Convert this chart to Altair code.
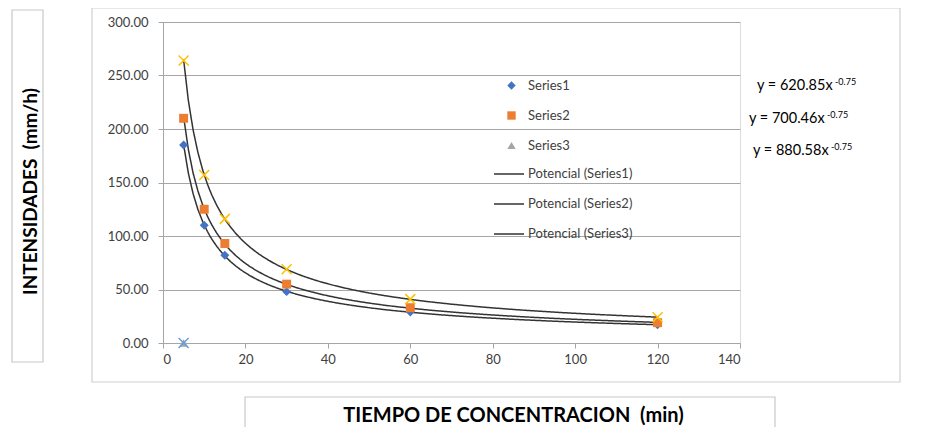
import altair as alt
import pandas as pd

# ---- data ----
tiempo = [5, 10, 15, 30, 60, 120]
series1 = [185, 110, 82, 48, 29, 17]
series2 = [210, 125, 93, 55, 33, 19]
series_x = [264, 157, 116, 69, 41, 24]     # yellow crosses
series3_x = [5]
series3_y = [0]
legend_series = ["Series1", "Series2", "Series3"]
trend_names = ["Potencial (Series1)", "Potencial (Series2)", "Potencial (Series3)"]
equations = ["y = 620.85x", "y = 700.46x", "y = 880.58x"]
exponent = "-0.75"
y_ticks = [0, 50, 100, 150, 200, 250, 300]
x_ticks = [0, 20, 40, 60, 80, 100, 120, 140]

FONT = "Lato"

pts = pd.DataFrame(
    [{"x": t, "y": v, "series": "Series1"} for t, v in zip(tiempo, series1)]
    + [{"x": t, "y": v, "series": "Series2"} for t, v in zip(tiempo, series2)]
    + [{"x": t, "y": v, "series": "Series3"} for t, v in zip(series3_x, series3_y)]
)
crosses = pd.DataFrame(
    [{"x": t, "y": v, "grp": "Y"} for t, v in zip(tiempo, series_x)]
    + [{"x": t, "y": v, "grp": "B"} for t, v in zip(series3_x, series3_y)]
)
trend = pd.DataFrame(
    [{"x": t, "y": v, "fit": trend_names[0]} for t, v in zip(tiempo, series1)]
    + [{"x": t, "y": v, "fit": trend_names[1]} for t, v in zip(tiempo, series2)]
    + [{"x": t, "y": v, "fit": trend_names[2]} for t, v in zip(tiempo, series_x)]
)

xscale = alt.Scale(domain=[0, 140], nice=False, zero=True)
yscale = alt.Scale(domain=[0, 300], nice=False)

x_axis = alt.Axis(
    values=x_ticks, format="d", grid=False, title="TIEMPO DE CONCENTRACION \u00a0(min)",
    titleFont=FONT, titleFontSize=20, titleFontWeight="bold", titleColor="#000000",
    titleX=350, titleY=72, titleBaseline="middle", titleAlign="center",
    labelFont=FONT, labelFontSize=13, labelColor="#404040", labelPadding=5,
    domainColor="#a6a6a6", tickColor="#a6a6a6", tickSize=5,
)
y_axis = alt.Axis(
    values=y_ticks, format=".2f", grid=True, gridColor="#a6a6a6",
    title="INTENSIDADES \u00a0(mm/h)",
    titleFont=FONT, titleFontSize=19, titleFontWeight="bold", titleColor="#000000",
    titleX=-133, titleY=169, titleBaseline="middle", titleAlign="center", titleAngle=270,
    labelFont=FONT, labelFontSize=13, labelColor="#404040", labelPadding=10,
    domainColor="#a6a6a6", tickColor="#a6a6a6", tickSize=5,
)

X = alt.X("x:Q", scale=xscale, axis=x_axis)
Y = alt.Y("y:Q", scale=yscale, axis=y_axis)

pt_legend = alt.Legend(
    title=None, orient="none", legendX=342, legendY=57, padding=0,
    symbolSize=70, labelOffset=10, rowPadding=16,
    labelFont=FONT, labelFontSize=13, labelColor="#404040",
)
line_legend = alt.Legend(
    title=None, orient="none", legendX=330, legendY=136, padding=0,
    symbolSize=900, symbolStrokeColor="#333333", symbolStrokeWidth=1.5,
    symbolType="stroke", labelOffset=3, rowPadding=7,
    labelFont=FONT, labelFontSize=13, labelColor="#404040",
)

def box(x1, x2, y1, y2, color):
    return alt.Chart(alt.Data(values=[{"k": 1}])).mark_rect(
        fill=None, fillOpacity=0, stroke=color, strokeWidth=1.2
    ).encode(x=alt.value(x1), x2=alt.value(x2), y=alt.value(y1), y2=alt.value(y2))

outer = box(-71, 737, -14, 360, "#d0d0d0")
ybox = box(-151, -120, -12, 340, "#c8c8c8")
xbox = box(82, 612, 375, 430, "#c8c8c8")

lines = alt.Chart(trend).transform_regression(
    "x", "y", groupby=["fit"], method="pow", extent=[5, 120]
).mark_line(color="#333333", strokeWidth=1.5).encode(
    x=X, y=Y,
    strokeDash=alt.StrokeDash(
        "fit:N",
        scale=alt.Scale(domain=trend_names, range=[[1, 0], [1, 0], [1, 0]]),
        legend=line_legend,
    ),
)

points = alt.Chart(pts).mark_point(filled=True, opacity=1, size=80).encode(
    x=X, y=Y,
    color=alt.Color("series:N", scale=alt.Scale(domain=legend_series,
                    range=["#4472c4", "#ed7d31", "#a5a5a5"]), legend=pt_legend),
    shape=alt.Shape("series:N", scale=alt.Scale(domain=legend_series,
                    range=["diamond", "square", "triangle-up"]), legend=pt_legend),
)

xmarks = alt.Chart(crosses).mark_point(
    filled=False, shape="M-1,-1L1,1M1,-1L-1,1", size=100, strokeWidth=1.5, opacity=1
).encode(
    x=X, y=Y,
    stroke=alt.Stroke("grp:N", scale=alt.Scale(domain=["Y", "B"], range=["#ffc000", "#6a9fd8"]),
                      legend=None),
)

eq_layers = []
eq_pos = [(594, 64, 672, 60), (586, 97, 664, 93), (590, 129, 668, 125)]
for txt, (mx, my, sx, sy) in zip(equations, eq_pos):
    d = alt.Data(values=[{"t": txt, "e": exponent}])
    eq_layers.append(alt.Chart(d).mark_text(
        align="left", baseline="middle", font=FONT, fontSize=14.5, color="#000000"
    ).encode(text="t:N", x=alt.value(mx), y=alt.value(my)))
    eq_layers.append(alt.Chart(d).mark_text(
        align="left", baseline="middle", font=FONT, fontSize=9, color="#000000"
    ).encode(text="e:N", x=alt.value(sx), y=alt.value(sy)))

chart = alt.layer(outer, ybox, xbox, lines, points, xmarks, *eq_layers).resolve_scale(
    color="independent", shape="independent", strokeDash="independent", stroke="independent"
).properties(
    width=577, height=321,
    autosize=alt.AutoSizeParams(type="none"),
    padding={"left": 155, "top": 14, "right": 203, "bottom": 84},
).configure_view(stroke=None).configure(background="white")

chart.save("out.html", embed_options={"renderer": "svg", "actions": False})
